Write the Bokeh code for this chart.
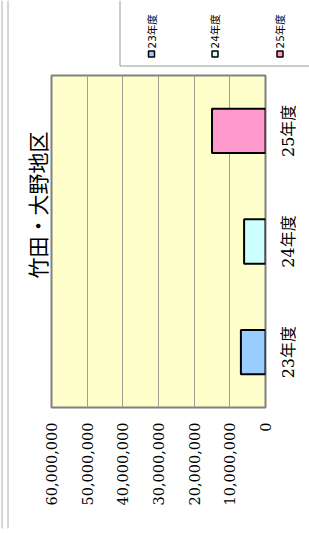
import math
from bokeh.plotting import figure
from bokeh.layouts import row, column
from bokeh.models import (Range1d, FactorRange, FixedTicker, NumeralTickFormatter,
                          ColumnDataSource, Title)
from bokeh.core.properties import value
from bokeh.embed import file_html
from bokeh.resources import INLINE

# ---- data ----
categories = ["23年度", "24年度", "25年度"]
amounts = [6900000, 6000000, 15000000]
bar_colors = ["#99CCFF", "#CCFFFF", "#FF99CC"]
value_ticks = [0, 10000000, 20000000, 30000000, 40000000, 50000000, 60000000]
chart_title = "竹田・大野地区"

SERIF = "DejaVu Serif, Noto Sans CJK JP"
CJK = "Noto Sans CJK JP"

src = ColumnDataSource(dict(cat=categories, amt=amounts, color=bar_colors))


def blank(w, h):
    f = figure(width=w, height=h, min_border=0,
               x_range=Range1d(0, w), y_range=Range1d(h, 0),
               x_axis_location=None, y_axis_location=None,
               output_backend="svg", toolbar_location=None)
    f.outline_line_color = None
    f.grid.grid_line_color = None
    f.background_fill_color = "white"
    f.border_fill_color = "white"
    return f


# ---- main plot ----
p = figure(frame_width=214, frame_height=332,
           min_border_left=41, min_border_right=10, min_border_top=2, min_border_bottom=126,
           x_range=Range1d(value_ticks[-1], value_ticks[0]),
           y_range=FactorRange(*categories),
           y_axis_location=None,
           output_backend="svg", toolbar_location=None)
p.background_fill_color = "#FFFFCC"
p.border_fill_color = "white"
p.outline_line_color = "#808080"
p.outline_line_width = 2

p.hbar(y="cat", left=0, right="amt", height=0.4, fill_color="color",
       line_color="black", line_width=2, source=src)

xa = p.xaxis[0]
xa.ticker = FixedTicker(ticks=value_ticks)
xa.formatter = NumeralTickFormatter(format="0,0")
xa.major_label_orientation = math.pi / 2
xa.major_label_text_font = SERIF
xa.major_label_text_font_size = "14.5px"
xa.major_label_text_color = "black"
xa.major_label_standoff = 15
xa.axis_line_color = None
xa.major_tick_out = 0
xa.major_tick_in = 0
xa.minor_tick_line_color = None

p.xgrid.ticker = FixedTicker(ticks=value_ticks)
p.xgrid.grid_line_color = "#a0a090"
p.ygrid.grid_line_color = None

p.add_layout(Title(text=chart_title, align="right", vertical_align="bottom",
                   offset=56, standoff=0, text_font=CJK, text_font_size="21px",
                   text_font_style="normal", text_color="black"), "left")

# ---- right strip: category labels (shares the category scale) ----
r = figure(frame_width=34, frame_height=332,
           min_border_left=0, min_border_right=0, min_border_top=2, min_border_bottom=126,
           x_range=Range1d(0, 34), y_range=p.y_range,
           x_axis_location=None, y_axis_location=None,
           output_backend="svg", toolbar_location=None)
r.outline_line_color = None
r.grid.grid_line_color = None
r.text(x=13, y="cat", text="cat", source=src, angle=math.pi / 2,
       text_align="center", text_baseline="middle",
       text_font=value(SERIF), text_font_size="16px", text_color="black")

# ---- left strip: outer double border (full height) ----
lf = blank(10, 533)
lf.segment(x0=[1.5, 7.5], y0=[0, 0], x1=[1.5, 7.5], y1=[528, 528],
           line_color="#b0b0b0", line_width=1)

# ---- top strip: legend ----
tp = blank(299, 73)
tp.segment(x0=[109.5, 109.5], y0=[0, 65.5], x1=[109.5, 299], y1=[65.5, 65.5],
           line_color="#999999", line_width=1)
leg = ColumnDataSource(dict(x=[141, 204.5, 269.5], y=[53.5, 53.5, 53.5],
                            ty=[48, 48, 48], name=categories, color=bar_colors))
tp.scatter(x="x", y="y", source=leg, marker="square", size=6,
           fill_color="color", line_color="black", line_width=1.5)
tp.text(x="x", y="ty", text="name", source=leg, angle=math.pi / 2,
        text_align="left", text_baseline="middle",
        text_font=value("DejaVu Sans, Noto Sans CJK JP"), text_font_size="10.5px",
        text_color="black")

layout = row(lf, column(tp, row(p, r)))
open("out.html", "w").write(file_html(layout, INLINE))
